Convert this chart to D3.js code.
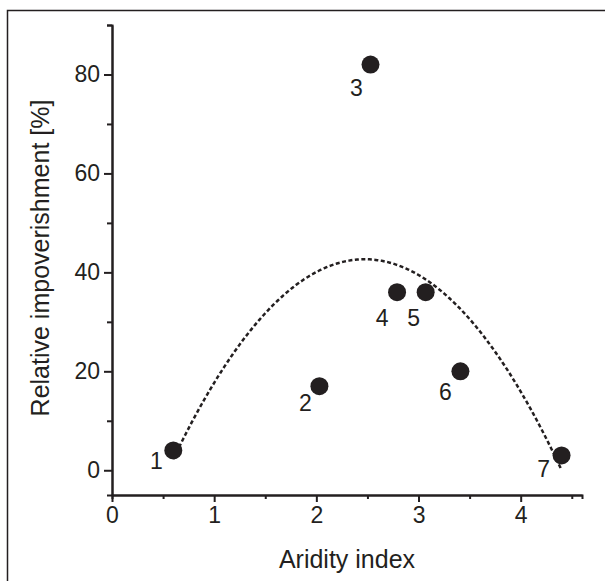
<!DOCTYPE html>
<html>
<head>
<meta charset="utf-8">
<script src="https://cdn.jsdelivr.net/npm/d3@7"></script>
<style>
  body { margin: 0; background: #fff; }
  svg { display: block; font-family: "Liberation Sans", Arial, sans-serif; }
</style>
</head>
<body>
<div id="chart"></div>
<script>
// data
var sites = ['1', '2', '3', '4', '5', '6', '7'],
  aridity = [0.6, 2.03, 2.53, 2.79, 3.07, 3.41, 4.4],
  impoverishment = [4, 17, 82, 36, 36, 20, 3],
  xTicks = [0, 1, 2, 3, 4],
  yTicks = [0, 20, 40, 60, 80];

// where each number sits relative to its dot
var labelShift = [[-17, 11], [-14, 17], [-14, 23], [-15, 26], [-12, 26], [-15, 21], [-18, 14]];

var width = 605,
  height = 581,
  ink = '#231f20',
  margin = {left: 112, top: 25, right: 23, bottom: 86};

var x = d3.scaleLinear().domain([0, 4.6]).range([margin.left, width - margin.right]),
  y = d3.scaleLinear().domain([-5, 90]).range([height - margin.bottom, margin.top]);

var svg = d3.select('#chart').append('svg')
  .attr('width', width)
  .attr('height', height);

// frame round the whole figure
svg.append('rect')
  .attr('x', 7.5).attr('y', 10.5)
  .attr('width', 620).attr('height', 620)
  .style('fill', 'none')
  .style('stroke', ink)
  .style('stroke-width', 1.5);

// minor ticks first, then the labelled axes on top
svg.append('g')
  .attr('transform', 'translate(0,' + y.range()[0] + ')')
  .call(d3.axisBottom(x).tickValues(d3.range(0.5, 4.6, 1)).tickSize(4).tickFormat(''))
  .call(styleAxis);

svg.append('g')
  .attr('transform', 'translate(' + x.range()[0] + ',0)')
  .call(d3.axisLeft(y).tickValues(d3.range(10, 91, 20)).tickSize(5).tickFormat(''))
  .call(styleAxis);

svg.append('g')
  .attr('transform', 'translate(0,' + y.range()[0] + ')')
  .call(d3.axisBottom(x).tickValues(xTicks).tickFormat(d3.format('d'))
    .tickSize(7).tickSizeOuter(0).tickPadding(5))
  .call(styleAxis);

svg.append('g')
  .attr('transform', 'translate(' + x.range()[0] + ',0)')
  .call(d3.axisLeft(y).tickValues(yTicks).tickFormat(d3.format('d'))
    .tickSize(8).tickSizeOuter(0).tickPadding(4))
  .call(styleAxis);

function styleAxis (g) {
  g.select('.domain').style('stroke', ink).style('stroke-width', 2);
  g.selectAll('.tick line').style('stroke', ink).style('stroke-width', 2);
  g.selectAll('.tick text')
    .style('fill', ink)
    .style('font-size', '23px')
    .style('font-family', '"Liberation Sans", Arial, sans-serif');
}

svg.append('text')
  .attr('x', (x.range()[0] + x.range()[1]) / 2)
  .attr('y', 568)
  .attr('text-anchor', 'middle')
  .style('font-size', '25px')
  .style('fill', ink)
  .text('Aridity index');

svg.append('text')
  .attr('transform', 'translate(49,258) rotate(-90)')
  .attr('text-anchor', 'middle')
  .style('font-size', '25px')
  .style('fill', ink)
  .text('Relative impoverishment [%]');

// least-squares parabola through the seven sites
var fit = quadFit(aridity, impoverishment),
  xs = d3.range(d3.min(aridity), d3.max(aridity) + 0.001, 0.02);

svg.append('path')
  .datum(xs)
  .attr('d', d3.line()
    .x(function (d) { return x(d); })
    .y(function (d) { return y(fit[0] + fit[1] * d + fit[2] * d * d); }))
  .style('fill', 'none')
  .style('stroke', ink)
  .style('stroke-width', 2.5)
  .style('stroke-dasharray', '4,2.5');

var points = svg.append('g');

points.selectAll('circle')
  .data(sites)
  .enter()
  .append('circle')
  .attr('cx', function (d, i) { return x(aridity[i]); })
  .attr('cy', function (d, i) { return y(impoverishment[i]); })
  .attr('r', 9)
  .style('fill', ink);

points.selectAll('text')
  .data(sites)
  .enter()
  .append('text')
  .attr('x', function (d, i) { return x(aridity[i]) + labelShift[i][0]; })
  .attr('y', function (d, i) { return y(impoverishment[i]) + labelShift[i][1] + 8; })
  .attr('text-anchor', 'middle')
  .style('font-size', '23px')
  .style('fill', ink)
  .text(function (d) { return d; });

function quadFit (xv, yv) {
  // normal equations for y = a + b x + c x^2
  var s = [0, 0, 0, 0, 0], t = [0, 0, 0];
  xv.forEach(function (xi, i) {
    for (var k = 0; k < 5; ++k) s[k] += Math.pow(xi, k);
    for (var k2 = 0; k2 < 3; ++k2) t[k2] += Math.pow(xi, k2) * yv[i];
  });
  var m = [[s[0], s[1], s[2], t[0]], [s[1], s[2], s[3], t[1]], [s[2], s[3], s[4], t[2]]];
  for (var c = 0; c < 3; ++c) {
    for (var r = c + 1; r < 3; ++r) {
      var f = m[r][c] / m[c][c];
      for (var j = c; j < 4; ++j) m[r][j] -= f * m[c][j];
    }
  }
  var out = [0, 0, 0];
  for (var r2 = 2; r2 >= 0; --r2) {
    var v = m[r2][3];
    for (var j2 = r2 + 1; j2 < 3; ++j2) v -= m[r2][j2] * out[j2];
    out[r2] = v / m[r2][r2];
  }
  return out;
}
</script>
</body>
</html>
